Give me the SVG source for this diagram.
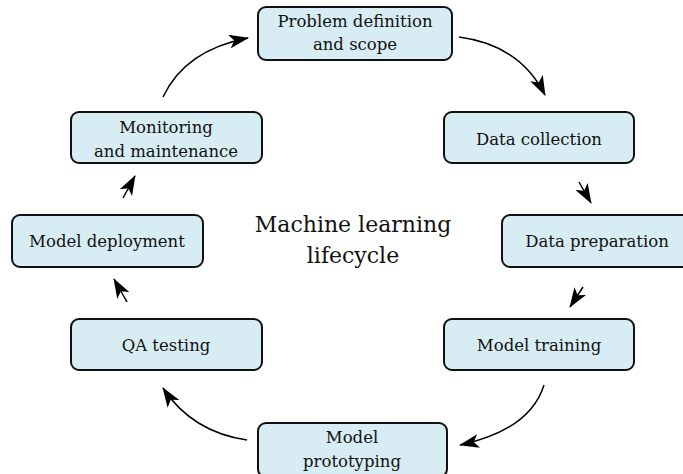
<svg xmlns="http://www.w3.org/2000/svg" width="683" height="474" viewBox="0 0 683 474">
<defs>
<marker id="ah" viewBox="0 0 20 14" refX="19" refY="7" markerWidth="20" markerHeight="14" markerUnits="userSpaceOnUse" orient="auto">
<path d="M0,0 L20,7 L0,14 L5,7 Z" fill="#000"/>
</marker>
<style>
.box{fill:#d7edf3;stroke:#111;stroke-width:2}
.lbl{font-family:"DejaVu Serif","Liberation Serif",serif;font-size:16.5px;fill:#111;text-anchor:middle}
.title{font-family:"DejaVu Serif","Liberation Serif",serif;font-size:22px;fill:#111;text-anchor:middle}
.c{fill:none;stroke:#000;stroke-width:1.5;marker-end:url(#ah)}
</style>
</defs>
<rect width="683" height="474" fill="#fff"/>
<g id="connectors">
<path class="c" d="M163,97 Q185,50 248,38"/>
<path class="c" d="M459,37 Q520,45 545,95"/>
<path class="c" d="M579,182 L591,203"/>
<path class="c" d="M583,287 L570,307"/>
<path class="c" d="M544,385 Q530,430 460,445"/>
<path class="c" d="M247,440 Q192,432 163,388"/>
<path class="c" d="M127,302 L114,279"/>
<path class="c" d="M123,198 L135,176"/>
</g>
<g id="problem"><rect class="box" x="258" y="7" width="194" height="53" rx="8"/><text class="lbl" x="355" y="27">Problem definition</text><text class="lbl" x="355" y="50">and scope</text></g>
<g id="collection"><rect class="box" x="444" y="112" width="190" height="51" rx="8"/><text class="lbl" x="539" y="145">Data collection</text></g>
<g id="preparation"><rect class="box" x="502" y="215" width="190" height="52" rx="8"/><text class="lbl" x="597" y="247">Data preparation</text></g>
<g id="training"><rect class="box" x="444" y="319" width="190" height="51" rx="8"/><text class="lbl" x="539" y="351">Model training</text></g>
<g id="prototyping"><rect class="box" x="258" y="423" width="189" height="54" rx="8"/><text class="lbl" x="352" y="443">Model</text><text class="lbl" x="352" y="467">prototyping</text></g>
<g id="qa"><rect class="box" x="71" y="319" width="191" height="51" rx="8"/><text class="lbl" x="166" y="351">QA testing</text></g>
<g id="deployment"><rect class="box" x="12" y="215" width="191" height="52" rx="8"/><text class="lbl" x="107" y="247">Model deployment</text></g>
<g id="monitoring"><rect class="box" x="71" y="112" width="191" height="51" rx="8"/><text class="lbl" x="166" y="133">Monitoring</text><text class="lbl" x="166" y="157">and maintenance</text></g>
<g id="title"><text class="title" x="353" y="232">Machine learning</text><text class="title" x="353" y="263">lifecycle</text></g>
</svg>
